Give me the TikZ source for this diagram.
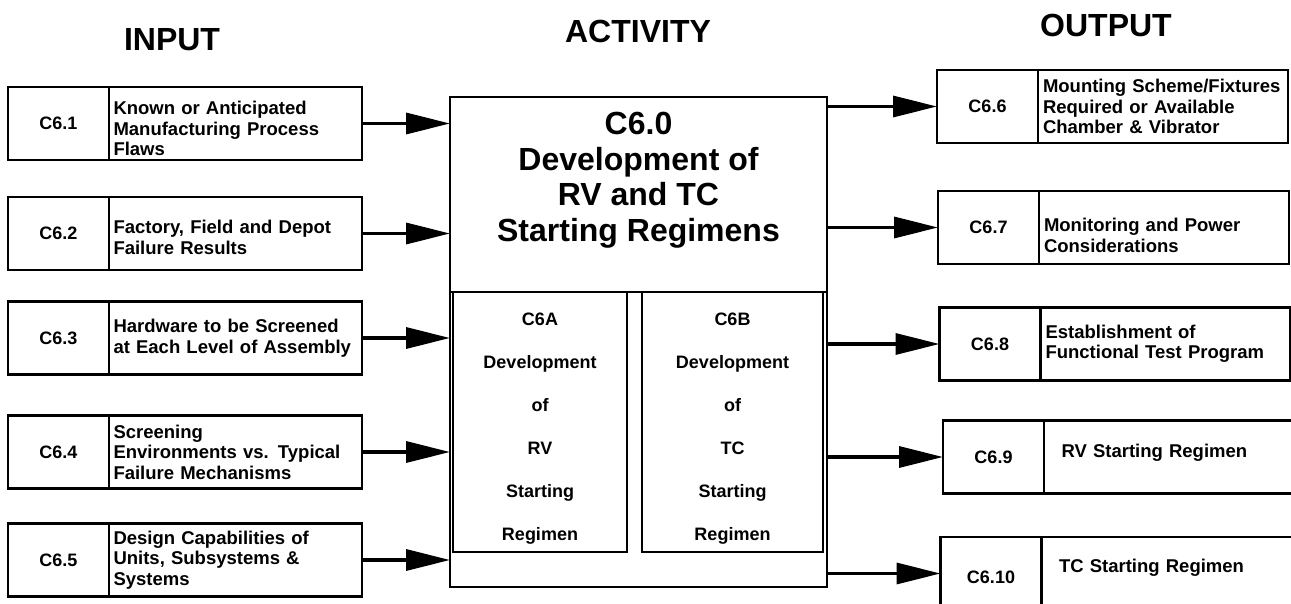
\documentclass[tikz,border=0pt]{standalone}
\usepackage{fontspec}
\setmainfont{Liberation Sans}
\usetikzlibrary{arrows.meta,positioning}
\begin{document}
\begin{tikzpicture}[x=1pt,y=-1pt]
		\tikzstyle{titre}=[font=\fontsize{32}{34}\selectfont\bfseries]
		\tikzstyle{id_cell}=[draw, line width=2.5pt, outer sep=0pt, minimum width=101pt, minimum height=73pt, font=\fontsize{18}{20}\selectfont\bfseries]
		\tikzstyle{txt_cell}=[draw, line width=2.5pt, outer sep=0pt, minimum width=253pt, minimum height=73pt, text width=244pt, inner xsep=4pt, align=left, font=\fontsize{18.5}{20.5}\selectfont\bfseries]
		\tikzstyle{txt_cell_r}=[txt_cell, minimum width=250pt, text width=240pt]
		\tikzstyle{sub_cell}=[draw, line width=2.5pt, outer sep=0pt, minimum height=260pt, text width=160pt, text height=25pt, align=center, font=\fontsize{18}{43}\selectfont\bfseries]
		\tikzstyle{fleche}=[line width=3.2pt, -{Triangle[length=44pt,width=21pt]}]
		\useasboundingbox (0,0) rectangle (1291,604);
		\clip (0,0) rectangle (1291,604);
		\node[titre] (h_in) at (172,40) {INPUT};
		\node[titre] (h_act) at (638,31) {ACTIVITY};
		\node[titre] (h_out) at (1106,25) {OUTPUT};
		% entrees
		\node[id_cell] (i1) at (58.5,123.5) {C6.1};
		\node[txt_cell, text height=23.5pt, right=0pt of i1] (t1) {Known or Anticipated\\Manufacturing Process\\Flaws};
		\node[id_cell] (i2) at (58.5,233.5) {C6.2};
		\node[txt_cell, text height=21.5pt, right=0pt of i2] (t2) {Factory, Field and Depot\\Failure Results};
		\node[id_cell] (i3) at (58.5,338) {C6.3};
		\node[txt_cell, right=0pt of i3] (t3) {Hardware to be Screened\\at Each Level of Assembly};
		\node[id_cell] (i4) at (58.5,452) {C6.4};
		\node[txt_cell, right=0pt of i4] (t4) {Screening\\Environments vs. Typical\\Failure Mechanisms};
		\node[id_cell] (i5) at (58.5,560) {C6.5};
		\node[txt_cell, right=0pt of i5] (t5) {Design Capabilities of\\Units, Subsystems \&\\Systems};
		% activite
		\node[draw, line width=2.5pt, outer sep=0pt, minimum width=377pt, minimum height=490pt] (act) at (638.5,342) {};
		\node[font=\fontsize{32}{35.5}\selectfont\bfseries, align=center] (act_t) at (638.5,180) {C6.0\\Development of\\RV and TC\\Starting Regimens};
		\coordinate (cut) at (0,292);
		\draw[line width=2.5pt] (act.west |- cut) -- (act.east |- cut);
		\node[sub_cell, minimum width=174pt, anchor=north] (sa) at (540,292) {C6A\\Development\\of\\RV\\Starting\\Regimen};
		\node[sub_cell, minimum width=181pt, anchor=north] (sb) at (732.5,292) {C6B\\Development\\of\\TC\\Starting\\Regimen};
		% sorties
		\node[id_cell] (o6) at (987.5,106.5) {C6.6};
		\node[txt_cell_r, right=0pt of o6] (r6) {Mounting Scheme/Fixtures\\Required or Available\\Chamber \& Vibrator};
		\node[id_cell] (o7) at (988.5,227.5) {C6.7};
		\node[txt_cell_r, text height=29.5pt, right=0pt of o7] (r7) {Monitoring and Power\\Considerations};
		\node[id_cell] (o8) at (990,344) {C6.8};
		\node[txt_cell_r, right=0pt of o8] (r8) {Establishment of\\Functional Test Program};
		\node[id_cell] (o9) at (993.5,457) {C6.9};
		\node[txt_cell_r, minimum width=275pt, text depth=12pt, right=0pt of o9] (r9) {RV Starting Regimen};
		\node[id_cell, text height=21pt] (o10) at (991,573.5) {C6.10};
		\node[txt_cell_r, minimum width=275pt, text depth=16pt, right=0pt of o10] (r10) {TC Starting Regimen};
		% fleches
		\draw[fleche] (t1.east) -- (t1.east -| act.west);
		\draw[fleche] (t2.east) -- (t2.east -| act.west);
		\draw[fleche] (t3.east) -- (t3.east -| act.west);
		\draw[fleche] (t4.east) -- (t4.east -| act.west);
		\draw[fleche] (t5.east) -- (t5.east -| act.west);
		\draw[fleche] (act.east |- o6.west) -- (o6.west);
		\draw[fleche] (act.east |- o7.west) -- (o7.west);
		\draw[fleche] (act.east |- o8.west) -- (o8.west);
		\draw[fleche] (act.east |- o9.west) -- (o9.west);
		\draw[fleche] (act.east |- o10.west) -- (o10.west);
	\end{tikzpicture}
\end{document}
